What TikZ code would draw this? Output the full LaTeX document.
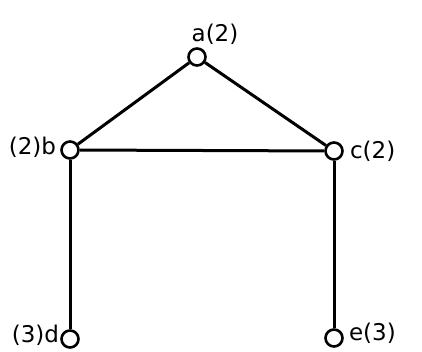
\documentclass[tikz,border=0pt]{standalone}
\usepackage{fontspec}
\setsansfont{DejaVu Sans}
\usetikzlibrary{positioning}

\begin{document}
\begin{tikzpicture}[
  x=1pt, y=-1pt,
  font=\sffamily\fontsize{23}{23}\selectfont,
  vtx/.style={draw, circle, fill=white, line width=2.6pt, minimum size=17pt, inner sep=0pt},
  edge/.style={line width=3pt},
  lbl/.style={inner sep=1pt}]
\useasboundingbox (0,0) rectangle (422,352);
\node[vtx] (a) at (197,57) {};
\node[vtx] (b) at (70,150) {};
\node[vtx] (c) at (334,151) {};
\node[vtx] (d) at (70,339) {};
\node[vtx] (e) at (334,338) {};
% edges
\draw[edge] (a) -- (b);
\draw[edge] (a) -- (c);
\draw[edge] (b) -- (c);
\draw[edge] (b) -- (d);
\draw[edge] (c) -- (e);
% labels
\node[lbl, above=1pt of a, xshift=18pt] (la) {a(2)};
\node[lbl, left=3pt of b, yshift=3pt] (lb) {(2)b};
\node[lbl, right=5pt of c] (lc) {c(2)};
\node[lbl, left=0pt of d, yshift=4pt] (ld) {(3)d};
\node[lbl, right=4pt of e, yshift=5pt] (le) {e(3)};
\end{tikzpicture}
\end{document}
